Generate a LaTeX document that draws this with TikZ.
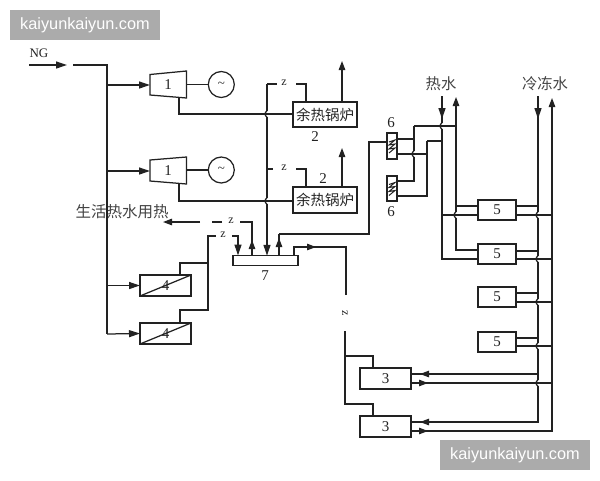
\documentclass[tikz,border=0pt]{standalone}
\usepackage{fontspec}
\setmainfont{Liberation Serif}
\newfontfamily\cjk{Noto Sans CJK SC}
\newfontfamily\wm{Liberation Sans}
\usetikzlibrary{arrows.meta,calc}
\definecolor{ink}{HTML}{222222}
\tikzset{
  x=1pt,y=-1pt,
  every path/.style={line width=1.25pt},
  box/.style={draw=ink,rectangle,inner sep=0,outer sep=0,text=ink,font=\fontsize{15}{15}\selectfont},
  lbl/.style={inner sep=0,text=ink,font=\fontsize{15}{15}\selectfont},
  cjklbl/.style={inner sep=0,text=ink!85,font=\cjk\fontsize{15.3}{16}\selectfont},
  zed/.style={inner sep=0,text=ink,font=\fontsize{12}{12}\selectfont},
  head/.style={draw=ink,-{Stealth[length=11pt,width=7pt,inset=0pt]}},
  shorthead/.style={draw=ink,-{Stealth[length=9pt,width=6.5pt,inset=0pt]}},
  wire/.style={draw=ink},
  wmark/.style={fill=black!33,text=white,minimum width=150pt,minimum height=30pt,inner sep=0,font=\wm\fontsize{16.3}{17}\selectfont},
}
\newcommand{\vbump}[1]{%
  \draw[white,line width=2.1pt] ($#1+(0,-3.2)$) -- ($#1+(0,3.2)$);
  \draw[wire] ($#1+(0,-3.2)$) .. controls ($#1+(-2.6,-1.2)$) and ($#1+(-2.6,1.2)$) .. ($#1+(0,3.2)$);}
\begin{document}
\begin{tikzpicture}
\useasboundingbox (0,0) rectangle (600,480);
% watermarks
\node[wmark] (wa) at (85,25) {kaiyunkaiyun.com};
\node[wmark] (wb) at (515,455) {kaiyunkaiyun.com};
% turbines
\coordinate (t1nw) at (150,74.5); \coordinate (t1ne) at (186.5,71); \coordinate (t1se) at (186.5,98); \coordinate (t1sw) at (150,95);
\coordinate (t2nw) at (150,160); \coordinate (t2ne) at (186.5,157); \coordinate (t2se) at (186.5,184); \coordinate (t2sw) at (150,181);
\draw[wire] (t1nw) -- (t1ne) -- (t1se) -- (t1sw) -- cycle;
\draw[wire] (t2nw) -- (t2ne) -- (t2se) -- (t2sw) -- cycle;
\node[lbl] (t1) at (168,85) {1};
\node[lbl] (t2) at (168,171) {1};
\node[box,circle,minimum size=26pt] (g1) at (221.3,84.5) {\fontsize{13}{13}\selectfont\textasciitilde};
\node[box,circle,minimum size=26pt] (g2) at (221.3,170) {\fontsize{13}{13}\selectfont\textasciitilde};
% boilers
\node[box,minimum width=64pt,minimum height=25pt] (b1) at (325,114.5) {\cjk\fontsize{14.5}{15}\selectfont 余热锅炉};
\node[box,minimum width=64pt,minimum height=26pt] (b2) at (325,200) {\cjk\fontsize{14.5}{15}\selectfont 余热锅炉};
\node[lbl] (l2a) at (315,137) {2};
\node[lbl] (l2b) at (323,179) {2};
% header 7
\node[box,minimum width=65pt,minimum height=9.5pt] (hub) at (265.5,260.5) {};
\node[lbl] (l7) at (265,276) {7};
% engines 4
\node[box,minimum width=51pt,minimum height=21pt] (e1) at (165.5,285.5) {4};
\node[box,minimum width=51pt,minimum height=21pt] (e2) at (165.5,333.5) {4};
\draw[wire] (e1.south west) -- (e1.north east);
\draw[wire] (e2.south west) -- (e2.north east);
% coils 6
\node[box,minimum width=10pt,minimum height=26pt] (c1) at (392,146) {};
\node[box,minimum width=10pt,minimum height=25pt] (c2) at (392,188.5) {};
\node[lbl] (l6a) at (391,123) {6};
\node[lbl] (l6b) at (391,212) {6};
\foreach \c in {c1,c2}{
  \draw[wire,line width=1pt] ($(\c)+(-3,-4)$) -- ($(\c)+(3,-6)$) -- ($(\c)+(-3,-1)$) -- ($(\c)+(3,-2)$) -- ($(\c)+(-3,3)$) -- ($(\c)+(3,2)$) -- ($(\c)+(-3,7)$);
}
% chillers 5
\node[box,minimum width=38pt,minimum height=20pt] (ch1) at (497,210) {5};
\node[box,minimum width=38pt,minimum height=20pt] (ch2) at (497,254) {5};
\node[box,minimum width=38pt,minimum height=20pt] (ch3) at (497,297) {5};
\node[box,minimum width=38pt,minimum height=20pt] (ch4) at (497,342) {5};
% absorption units 3
\node[box,minimum width=51pt,minimum height=21pt] (ab1) at (385.5,378.5) {3};
\node[box,minimum width=51pt,minimum height=21pt] (ab2) at (385.5,426.5) {3};
% labels
\node[lbl,font=\fontsize{13}{13}\selectfont] (ng) at (39,53) {NG};
\node[cjklbl,font=\cjk\fontsize{15.5}{16}\selectfont] (dhw) at (122,212) {生活热水用热};
\node[cjklbl] (hw) at (441,84) {热水};
\node[cjklbl] (cw) at (545,84) {冷冻水};
% z labels
\node[zed] (z1) at (284,83) {z};
\node[zed] (z2) at (284,168) {z};
\node[zed] (z3) at (231,221) {z};
\node[zed] (z4) at (223,235) {z};
\node[zed,rotate=-90] (z5) at (345,313) {z};

% ----- gas supply
\coordinate (ngs) at (29,65); \coordinate (ngh) at (67,65); \coordinate (ngb) at (73,65);
\coordinate (main) at (107,65); \coordinate (mainb) at (107,334);
\draw[head] (ngs) -- (ngh);
\draw[wire] (ngb) -- (main) -- (mainb);
\draw[head] (mainb) -- (e2.west);
\draw[head] (main |- t1) -- (t1nw |- t1);
\draw[head] (main |- t2) -- (t2nw |- t2);
\draw[head] (main |- e1) -- (e1.west);
% generators
\draw[wire] (t1ne |- g1) -- (g1.west);
\draw[wire] (t2ne |- g2) -- (g2.west);
% stacks
\coordinate (s1) at (342,61); \coordinate (s2) at (342,148);
\draw[shorthead] (s1 |- b1.north) -- (s1);
\draw[shorthead] (s2 |- b2.north) -- (s2);
% steam header vertical x=267
\coordinate (vt) at (267,84); \coordinate (j1) at (267,114); \coordinate (j2) at (267,201);
\draw[head] (vt) -- (vt |- hub.north);
\vbump{(j1)} \vbump{(j2)}
\draw[wire] (vt) -- ($(z1)+(-7,1)$);
\draw[wire] ($(z1)+(12,1)$) -| (306,102);
\draw[wire] (267,169) -- ($(z2)+(-11,1)$);
\draw[wire] ($(z2)+(12,1)$) -| (306,187);
% exhaust
\draw[wire] (179,98) |- (j1) -- (j1 -| b1.west);
\draw[wire] (179,184) |- (j2) -- (j2 -| b2.west);
% hot water use
\coordinate (dh) at (252,222);
\draw[wire] (dh |- hub.north) -- (dh) -- ($(z3)+(9,1)$);
\draw[shorthead] (dh |- hub.north) -- (252,240);
\draw[wire] ($(z3)+(-9,1)$) -- ($(z3)+(-19,1)$);
\draw[shorthead] (200,222) -- (163,222);
% engines' exhaust
\coordinate (ev) at (208,236);
\draw[wire] (180,275) |- (208,263);
\draw[wire] (180,323) |- (208,310) -- (ev) -- ($(z4)+(-7,1)$);
\draw[head] ($(z4)+(9,1)$) -| (238,255.5);
% header to coil
\coordinate (hr) at (279,234);
\draw[wire] (hr) -- (369,234) |- (c1.west |- 0,142);
\draw[shorthead] (hr |- hub.north) -- (279,238);
\draw[wire] (279,240) -- (hr);
% return to header
\coordinate (hi) at (346,247);
\draw[wire] (346,295) -- (hi) -- (294,247) -- (294,256);
\draw[shorthead] (306,247) -- (316,247);
\draw[wire] (345,331) -- (345,404) -| (373,416);
\draw[wire] (345,356) -| (373,368);
% hot water verticals
\coordinate (hwin) at (442,96); \coordinate (hwout) at (456,97);
\draw[head] (hwin) -- (442,119);
\draw[wire] (442,115) -- (442,259) -- (ch2.west |- 0,259);
\draw[wire] (456,215) -- (hwout |- 0,250) -- (ch2.west |- 0,250);
\draw[shorthead] (456,215) -- (hwout) ;
\vbump{(442,126)}
\vbump{(456,215)}
% coil connections
\draw[wire] (414,126) -- (414,181) -- (c2.east |- 0,181);
\vbump{(414,154)}
\draw[wire] (427,141) -- (427,196) -- (c2.east |- 0,196);
\draw[wire] (c1.east |- 0,139) -- (414,139);
\draw[wire] (c1.east |- 0,154) -- (427,154);
\draw[wire] (414,126) -- (456,126);
\draw[wire] (427,141) -- (442,141);
\draw[wire] (456,206) -- (ch1.west |- 0,206);
\draw[wire] (442,215) -- (ch1.west |- 0,215);
% chilled water verticals
\coordinate (cwin) at (538,96); \coordinate (cwout) at (552,98);
\draw[wire] (538,115) -- (538,422) -- (ab2.east |- 0,422);
\draw[head] (cwin) -- (538,119);
\draw[wire] (552,115) -- (552,431) -- (ab2.east |- 0,431);
\draw[shorthead] (552,115) -- (cwout);
\vbump{(538,215)} \vbump{(538,259)} \vbump{(538,302)} \vbump{(538,346)} \vbump{(538,383)}
\foreach \n/\a/\b in {ch1/206/215,ch2/251/259,ch3/293/302,ch4/338/346}{
  \draw[wire] (\n.east |- 0,\a) -- (538,\a);
  \draw[wire] (\n.east |- 0,\b) -- (552,\b);
}
\draw[wire] (ab1.east |- 0,374) -- (538,374);
\draw[wire] (ab1.east |- 0,383) -- (552,383);
\draw[shorthead] (432,374) -- (420,374);
\draw[shorthead] (416,383) -- (428,383);
\draw[shorthead] (432,422) -- (420,422);
\draw[shorthead] (416,431) -- (428,431);
\end{tikzpicture}
\end{document}
